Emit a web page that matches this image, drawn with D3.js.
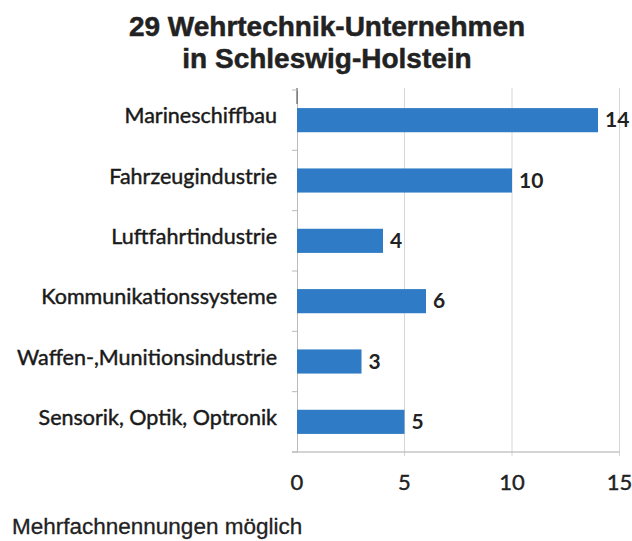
<!DOCTYPE html>
<html>
<head>
<meta charset="utf-8">
<script src="https://cdn.jsdelivr.net/npm/d3@7"></script>
<style>
  body { margin: 0; background: #fff; }
</style>
</head>
<body>
<div id="container"></div>
<script>
/* DATA */
const categories = ["Marineschiffbau", "Fahrzeugindustrie", "Luftfahrtindustrie",
  "Kommunikationssysteme", "Waffen-,Munitionsindustrie", "Sensorik, Optik, Optronik"];
const counts = [14, 10, 4, 6, 3, 5];
const xTicks = [0, 5, 10, 15];
const titleLines = ["29 Wehrtechnik-Unternehmen", "in Schleswig-Holstein"];
const footnote = "Mehrfachnennungen möglich";

/* CONSTANTS */
const width = 632;
const height = 541;
const margin = { top: 90, right: 12, bottom: 89, left: 297 };

const data = categories.map((c, i) => ({ cat: c, value: counts[i] }));

/* SCALES */
const xScale = d3.scaleLinear()
  .domain([0, 15])
  .range([margin.left, width - margin.right - 0.5]);

const yScale = d3.scaleBand()
  .domain(categories)
  .range([margin.top, height - margin.bottom])
  .paddingInner(0.6)
  .paddingOuter(0.3);

const svg = d3.select("#container")
  .append("svg")
  .attr("width", width)
  .attr("height", height);

// title
svg.selectAll(".title")
  .data(titleLines)
  .join("text")
  .attr("class", "title")
  .attr("x", 327)
  .attr("y", (d, i) => 36 + i * 32)
  .attr("text-anchor", "middle")
  .style("font-family", "'Liberation Sans', Arial, sans-serif")
  .style("font-weight", "bold")
  .style("font-size", "28px")
  .style("fill", "#222")
  .style("stroke", "#222")
  .style("stroke-width", 0.5)
  .text(d => d);

// gridlines
svg.selectAll(".grid")
  .data(xTicks.slice(1))
  .join("line")
  .attr("class", "grid")
  .attr("x1", d => xScale(d))
  .attr("x2", d => xScale(d))
  .attr("y1", margin.top - 2)
  .attr("y2", height - margin.bottom + 4)
  .attr("stroke", "#d6d6d6")
  .attr("stroke-width", 1);

// bottom axis line
svg.append("line")
  .attr("x1", margin.left - 5)
  .attr("x2", xScale(15))
  .attr("y1", height - margin.bottom)
  .attr("y2", height - margin.bottom)
  .attr("stroke", "#aaa");

// left axis
const yAxis = d3.axisLeft(yScale).tickSize(0).tickFormat("");
svg.append("g")
  .attr("transform", `translate(${margin.left},0)`)
  .call(yAxis)
  .call(g => g.select(".domain").attr("stroke", "#bbb"));

// darker top part of the left axis, as in the scan
svg.append("line")
  .attr("x1", margin.left)
  .attr("x2", margin.left)
  .attr("y1", margin.top - 2)
  .attr("y2", margin.top + 14)
  .attr("stroke", "#444");

// small category separators on left axis
const step = yScale.step();
svg.selectAll(".sep")
  .data(d3.range(categories.length + 1))
  .join("line")
  .attr("class", "sep")
  .attr("x1", margin.left - 5)
  .attr("x2", margin.left)
  .attr("y1", i => yScale(categories[0]) - yScale.paddingOuter() * step + i * step)
  .attr("y2", i => yScale(categories[0]) - yScale.paddingOuter() * step + i * step)
  .attr("stroke", "#bbb");

// bars
svg.selectAll(".bar")
  .data(data)
  .join("rect")
  .attr("class", "bar")
  .attr("x", xScale(0))
  .attr("y", d => yScale(d.cat))
  .attr("width", d => xScale(d.value) - xScale(0))
  .attr("height", yScale.bandwidth())
  .attr("fill", "#2f7bc6");

// category labels
svg.selectAll(".label")
  .data(data)
  .join("text")
  .attr("class", "label")
  .attr("x", margin.left - 20)
  .attr("y", d => yScale(d.cat) + yScale.bandwidth() / 2 + 3)
  .attr("text-anchor", "end")
  .style("font-family", "Lato, 'Open Sans', sans-serif")
  .style("font-size", "21.5px")
  .style("fill", "#1a1a1a")
  .style("stroke", "#1a1a1a")
  .style("stroke-width", 0.45)
  .text(d => d.cat);

// value labels
svg.selectAll(".value")
  .data(data)
  .join("text")
  .attr("class", "value")
  .attr("x", d => xScale(d.value) + 7)
  .attr("y", d => yScale(d.cat) + yScale.bandwidth() / 2 + 7)
  .style("font-family", "Lato, 'Open Sans', sans-serif")
  .style("font-weight", "bold")
  .style("font-size", "21px")
  .style("fill", "#222")
  .text(d => d.value);

// x tick labels
svg.selectAll(".xtick")
  .data(xTicks)
  .join("text")
  .attr("class", "xtick")
  .attr("x", d => xScale(d))
  .attr("y", 490)
  .attr("text-anchor", "middle")
  .style("font-family", "Lato, 'Open Sans', sans-serif")
  .style("font-size", "22px")
  .style("fill", "#222")
  .style("stroke", "#222")
  .style("stroke-width", 0.4)
  .text(d => d);

// footnote
svg.append("text")
  .attr("x", 12)
  .attr("y", 534)
  .style("font-family", "'Liberation Sans', Arial, sans-serif")
  .style("font-size", "22.5px")
  .style("fill", "#222")
  .style("stroke", "#222")
  .style("stroke-width", 0.3)
  .text(footnote);
</script>
</body>
</html>
